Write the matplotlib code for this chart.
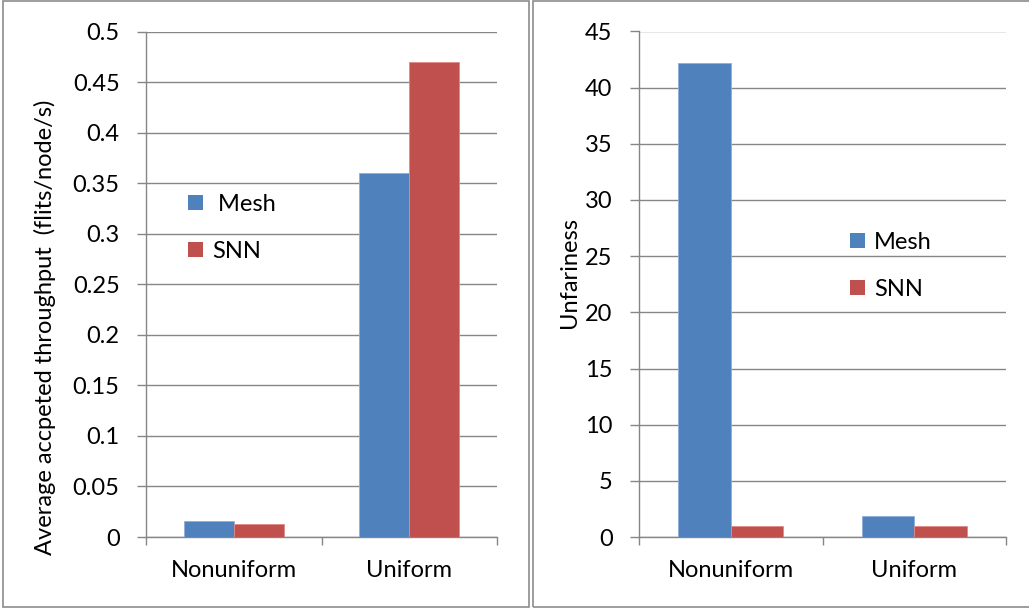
import matplotlib.pyplot as plt
from matplotlib.patches import Patch, Rectangle

plt.rcParams['font.family'] = ['Lato', 'DejaVu Sans']

categories = ['Nonuniform', 'Uniform']
series = ['Mesh', 'SNN']
throughput = {'Mesh': [0.016, 0.36], 'SNN': [0.013, 0.47]}
unfairness = {'Mesh': [42.2, 1.9], 'SNN': [1.0, 1.0]}
colors = {'Mesh': '#4F81BD', 'SNN': '#C0504D'}
edges = {'Mesh': '#8FAEDA', 'SNN': '#E08A88'}

W, H = 1029, 608
fig = plt.figure(figsize=(W / 100, H / 100), dpi=100)
grid_col = '#868686'
fs = 17


def px_box(x0, y0, x1, y1):
    return [x0 / W, 1 - y1 / H, (x1 - x0) / W, (y1 - y0) / H]


def draw_panel(ax, data, ymax, ystep, yfmt, legend_at, legend_labels):
    bw = 2 / 7
    for i, s in enumerate(series):
        xs = [k + (i - 0.5) * bw for k in range(len(categories))]
        ax.bar(xs, data[s], width=bw, color=colors[s], edgecolor=edges[s],
               linewidth=0.6, zorder=3)
    ax.set_xlim(-0.5, len(categories) - 0.5)
    ax.set_ylim(0, ymax)
    ticks = [k * ystep for k in range(int(round(ymax / ystep)) + 1)]
    ax.set_yticks(ticks)
    ax.set_yticklabels([yfmt(t) for t in ticks])
    ax.yaxis.grid(True, color=grid_col, linewidth=1.0, zorder=0)
    ax.set_axisbelow(True)
    for side in ('top', 'right'):
        ax.spines[side].set_visible(False)
    for side in ('left', 'bottom'):
        ax.spines[side].set_color(grid_col)
        ax.spines[side].set_linewidth(1.0)
    ax.set_xticks([-0.5, 0.5, 1.5])
    ax.set_xticklabels([])
    ax.set_xticks(range(len(categories)), minor=True)
    ax.set_xticklabels(categories, minor=True, fontsize=fs)
    ax.tick_params(axis='x', which='major', length=6, width=1.0, color=grid_col)
    ax.tick_params(axis='x', which='minor', length=0, pad=16.5)
    ax.tick_params(axis='y', length=6.5, width=1.0, color=grid_col,
                   labelsize=fs, pad=12.5)
    handles = [Patch(facecolor=colors[s], edgecolor='none') for s in series]
    ax.legend(handles, legend_labels, loc='center left', bbox_to_anchor=legend_at,
              frameon=False, fontsize=fs, handlelength=0.62, handleheight=0.62,
              handletextpad=0.4, labelspacing=1.1, borderpad=0, borderaxespad=0)


ax1 = fig.add_axes(px_box(146, 31.5, 497, 537))
draw_panel(ax1, throughput, 0.5, 0.05,
           lambda t: '0' if t == 0 else f'{t:.2f}'.rstrip('0'),
           (0.12, 0.612), [' Mesh', 'SNN'])

ax2 = fig.add_axes(px_box(639, 31.5, 1006, 537))
draw_panel(ax2, unfairness, 45, 5, lambda t: f'{t:g}',
           (0.575, 0.537), ['Mesh', 'SNN'])

fig.text(45 / W, 1 - 327 / H, 'Average accpeted throughput  (flits/node/s)',
         rotation=90, ha='center', va='center', fontsize=fs)
fig.text(570 / W, 1 - 272 / H, 'Unfariness',
         rotation=90, ha='center', va='center', fontsize=fs)

# panel frames
for x0, x1 in ((3, 529), (533, 1035)):
    fig.add_artist(Rectangle((x0 / W, 1 / H), (x1 - x0) / W, (H - 2) / H,
                             transform=fig.transFigure, fill=False,
                             edgecolor='#8c8c8c', linewidth=1.2))

fig.savefig('out.png', dpi=100)
